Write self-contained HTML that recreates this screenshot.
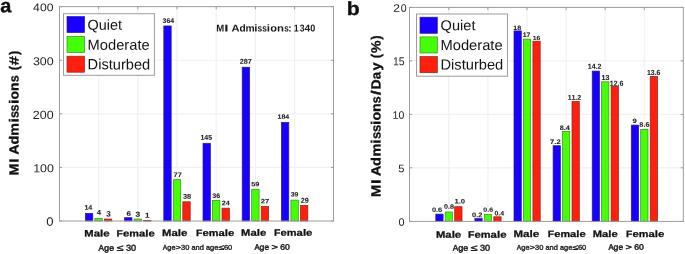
<!DOCTYPE html>
<html><head><meta charset="utf-8"><style>
html,body{margin:0;padding:0;background:#fff;width:685px;height:254px;overflow:hidden;}
svg{display:block;will-change:transform;font-family:"Liberation Sans", sans-serif;}
</style></head><body>
<svg width="685" height="254" viewBox="0 0 685 254">
<rect width="685" height="254" fill="#fff"/>
<line x1="98.6" y1="6.65" x2="98.6" y2="221.0" stroke="#f1f1f1" stroke-width="1.2"/>
<line x1="137.8" y1="6.65" x2="137.8" y2="221.0" stroke="#f1f1f1" stroke-width="1.2"/>
<line x1="177.0" y1="6.65" x2="177.0" y2="221.0" stroke="#f1f1f1" stroke-width="1.2"/>
<line x1="216.2" y1="6.65" x2="216.2" y2="221.0" stroke="#f1f1f1" stroke-width="1.2"/>
<line x1="255.4" y1="6.65" x2="255.4" y2="221.0" stroke="#f1f1f1" stroke-width="1.2"/>
<line x1="294.6" y1="6.65" x2="294.6" y2="221.0" stroke="#f1f1f1" stroke-width="1.2"/>
<line x1="59.5" y1="167.4125" x2="333.5" y2="167.4125" stroke="#f1f1f1" stroke-width="1.2"/>
<line x1="59.5" y1="113.825" x2="333.5" y2="113.825" stroke="#f1f1f1" stroke-width="1.2"/>
<line x1="59.5" y1="60.23750000000001" x2="333.5" y2="60.23750000000001" stroke="#f1f1f1" stroke-width="1.2"/>
<rect x="85.40" y="213.30" width="7.4" height="7.70" fill="#1700ff" stroke="#2a1c8a" stroke-width="0.7"/>
<rect x="94.90" y="218.40" width="7.4" height="2.60" fill="#44ff06" stroke="#3c8a1c" stroke-width="0.7"/>
<rect x="104.40" y="219.00" width="7.4" height="2.00" fill="#fe1f0e" stroke="#8a2418" stroke-width="0.7"/>
<rect x="124.60" y="217.70" width="7.4" height="3.30" fill="#1700ff" stroke="#2a1c8a" stroke-width="0.7"/>
<rect x="134.10" y="219.00" width="7.4" height="2.00" fill="#44ff06" stroke="#3c8a1c" stroke-width="0.7"/>
<rect x="143.60" y="220.30" width="7.4" height="0.70" fill="#fe1f0e" stroke="#8a2418" stroke-width="0.7"/>
<rect x="163.80" y="25.94" width="7.4" height="195.06" fill="#1700ff" stroke="#2a1c8a" stroke-width="0.7"/>
<rect x="173.30" y="179.74" width="7.4" height="41.26" fill="#44ff06" stroke="#3c8a1c" stroke-width="0.7"/>
<rect x="182.80" y="201.80" width="7.4" height="19.20" fill="#fe1f0e" stroke="#8a2418" stroke-width="0.7"/>
<rect x="203.00" y="143.30" width="7.4" height="77.70" fill="#1700ff" stroke="#2a1c8a" stroke-width="0.7"/>
<rect x="212.50" y="200.40" width="7.4" height="20.60" fill="#44ff06" stroke="#3c8a1c" stroke-width="0.7"/>
<rect x="222.00" y="208.14" width="7.4" height="12.86" fill="#fe1f0e" stroke="#8a2418" stroke-width="0.7"/>
<rect x="242.20" y="67.20" width="7.4" height="153.80" fill="#1700ff" stroke="#2a1c8a" stroke-width="0.7"/>
<rect x="251.70" y="189.38" width="7.4" height="31.62" fill="#44ff06" stroke="#3c8a1c" stroke-width="0.7"/>
<rect x="261.20" y="206.53" width="7.4" height="14.47" fill="#fe1f0e" stroke="#8a2418" stroke-width="0.7"/>
<rect x="281.40" y="122.40" width="7.4" height="98.60" fill="#1700ff" stroke="#2a1c8a" stroke-width="0.7"/>
<rect x="290.90" y="200.10" width="7.4" height="20.90" fill="#44ff06" stroke="#3c8a1c" stroke-width="0.7"/>
<rect x="300.40" y="205.46" width="7.4" height="15.54" fill="#fe1f0e" stroke="#8a2418" stroke-width="0.7"/>
<rect x="59.5" y="6.65" width="274.0" height="214.35" fill="none" stroke="#9c9c9c" stroke-width="1"/>
<line x1="59.5" y1="221.0" x2="62.1" y2="221.0" stroke="#9c9c9c" stroke-width="1"/>
<line x1="333.5" y1="221.0" x2="330.9" y2="221.0" stroke="#9c9c9c" stroke-width="1"/>
<line x1="59.5" y1="167.4125" x2="62.1" y2="167.4125" stroke="#9c9c9c" stroke-width="1"/>
<line x1="333.5" y1="167.4125" x2="330.9" y2="167.4125" stroke="#9c9c9c" stroke-width="1"/>
<line x1="59.5" y1="113.825" x2="62.1" y2="113.825" stroke="#9c9c9c" stroke-width="1"/>
<line x1="333.5" y1="113.825" x2="330.9" y2="113.825" stroke="#9c9c9c" stroke-width="1"/>
<line x1="59.5" y1="60.23750000000001" x2="62.1" y2="60.23750000000001" stroke="#9c9c9c" stroke-width="1"/>
<line x1="333.5" y1="60.23750000000001" x2="330.9" y2="60.23750000000001" stroke="#9c9c9c" stroke-width="1"/>
<line x1="59.5" y1="6.650000000000006" x2="62.1" y2="6.650000000000006" stroke="#9c9c9c" stroke-width="1"/>
<line x1="333.5" y1="6.650000000000006" x2="330.9" y2="6.650000000000006" stroke="#9c9c9c" stroke-width="1"/>
<line x1="98.6" y1="6.65" x2="98.6" y2="9.25" stroke="#9c9c9c" stroke-width="1"/>
<line x1="98.6" y1="221.0" x2="98.6" y2="218.4" stroke="#9c9c9c" stroke-width="1"/>
<line x1="137.8" y1="6.65" x2="137.8" y2="9.25" stroke="#9c9c9c" stroke-width="1"/>
<line x1="137.8" y1="221.0" x2="137.8" y2="218.4" stroke="#9c9c9c" stroke-width="1"/>
<line x1="177.0" y1="6.65" x2="177.0" y2="9.25" stroke="#9c9c9c" stroke-width="1"/>
<line x1="177.0" y1="221.0" x2="177.0" y2="218.4" stroke="#9c9c9c" stroke-width="1"/>
<line x1="216.2" y1="6.65" x2="216.2" y2="9.25" stroke="#9c9c9c" stroke-width="1"/>
<line x1="216.2" y1="221.0" x2="216.2" y2="218.4" stroke="#9c9c9c" stroke-width="1"/>
<line x1="255.4" y1="6.65" x2="255.4" y2="9.25" stroke="#9c9c9c" stroke-width="1"/>
<line x1="255.4" y1="221.0" x2="255.4" y2="218.4" stroke="#9c9c9c" stroke-width="1"/>
<line x1="294.6" y1="6.65" x2="294.6" y2="9.25" stroke="#9c9c9c" stroke-width="1"/>
<line x1="294.6" y1="221.0" x2="294.6" y2="218.4" stroke="#9c9c9c" stroke-width="1"/>
<rect x="63.5" y="13.7" width="90.9" height="61.599999999999994" fill="#fff" stroke="#9c9c9c" stroke-width="1"/>
<rect x="67.0" y="16.6" width="17.5" height="16" fill="#1700ff" stroke="#2a1c8a" stroke-width="0.7"/>
<rect x="67.0" y="36.4" width="17.5" height="16" fill="#44ff06" stroke="#3c8a1c" stroke-width="0.7"/>
<rect x="67.0" y="56.2" width="17.5" height="16" fill="#fe1f0e" stroke="#8a2418" stroke-width="0.7"/>
<text x="87.62" y="29.70" font-size="14.35" font-weight="normal" fill="#141414" textLength="34.49" lengthAdjust="spacingAndGlyphs" transform="matrix(1 0.001 0 1 0 -0.1049)">Quiet</text>
<text x="87.59" y="49.80" font-size="14.49" font-weight="normal" fill="#141414" textLength="62.06" lengthAdjust="spacingAndGlyphs" transform="matrix(1 0.001 0 1 0 -0.1186)">Moderate</text>
<text x="87.60" y="69.40" font-size="14.90" font-weight="normal" fill="#141414" textLength="62.54" lengthAdjust="spacingAndGlyphs" transform="matrix(1 0.001 0 1 0 -0.1189)">Disturbed</text>
<text x="84.45" y="209.80" font-size="6.69" font-weight="bold" fill="#1e1e1e" textLength="7.88" lengthAdjust="spacingAndGlyphs" transform="matrix(1 0.001 0 1 0 -0.0884)" stroke="#1e1e1e" stroke-width="0.08">14</text>
<text x="96.68" y="214.80" font-size="6.83" font-weight="bold" fill="#1e1e1e" textLength="4.36" lengthAdjust="spacingAndGlyphs" transform="matrix(1 0.001 0 1 0 -0.0989)" stroke="#1e1e1e" stroke-width="0.08">4</text>
<text x="106.22" y="216.60" font-size="7.88" font-weight="bold" fill="#1e1e1e" textLength="4.48" lengthAdjust="spacingAndGlyphs" transform="matrix(1 0.001 0 1 0 -0.1085)" stroke="#1e1e1e" stroke-width="0.08">3</text>
<text x="126.60" y="215.70" font-size="6.30" font-weight="bold" fill="#1e1e1e" textLength="4.49" lengthAdjust="spacingAndGlyphs" transform="matrix(1 0.001 0 1 0 -0.1288)" stroke="#1e1e1e" stroke-width="0.08">6</text>
<text x="135.61" y="216.80" font-size="7.16" font-weight="bold" fill="#1e1e1e" textLength="4.70" lengthAdjust="spacingAndGlyphs" transform="matrix(1 0.001 0 1 0 -0.1380)" stroke="#1e1e1e" stroke-width="0.08">3</text>
<text x="145.09" y="217.70" font-size="7.27" font-weight="bold" fill="#1e1e1e" textLength="4.54" lengthAdjust="spacingAndGlyphs" transform="matrix(1 0.001 0 1 0 -0.1474)" stroke="#1e1e1e" stroke-width="0.08">1</text>
<text x="162.64" y="23.00" font-size="6.87" font-weight="bold" fill="#1e1e1e" textLength="11.50" lengthAdjust="spacingAndGlyphs" transform="matrix(1 0.001 0 1 0 -0.1684)" stroke="#1e1e1e" stroke-width="0.08">364</text>
<text x="173.59" y="177.00" font-size="6.54" font-weight="bold" fill="#1e1e1e" textLength="8.14" lengthAdjust="spacingAndGlyphs" transform="matrix(1 0.001 0 1 0 -0.1777)" stroke="#1e1e1e" stroke-width="0.08">77</text>
<text x="182.93" y="198.70" font-size="6.87" font-weight="bold" fill="#1e1e1e" textLength="8.30" lengthAdjust="spacingAndGlyphs" transform="matrix(1 0.001 0 1 0 -0.1871)" stroke="#1e1e1e" stroke-width="0.08">38</text>
<text x="200.46" y="139.80" font-size="6.83" font-weight="bold" fill="#1e1e1e" textLength="11.63" lengthAdjust="spacingAndGlyphs" transform="matrix(1 0.001 0 1 0 -0.2063)" stroke="#1e1e1e" stroke-width="0.08">145</text>
<text x="212.33" y="197.90" font-size="6.59" font-weight="bold" fill="#1e1e1e" textLength="8.03" lengthAdjust="spacingAndGlyphs" transform="matrix(1 0.001 0 1 0 -0.2163)" stroke="#1e1e1e" stroke-width="0.08">36</text>
<text x="221.85" y="205.20" font-size="6.59" font-weight="bold" fill="#1e1e1e" textLength="7.99" lengthAdjust="spacingAndGlyphs" transform="matrix(1 0.001 0 1 0 -0.2258)" stroke="#1e1e1e" stroke-width="0.08">24</text>
<text x="239.65" y="63.80" font-size="7.02" font-weight="bold" fill="#1e1e1e" textLength="12.07" lengthAdjust="spacingAndGlyphs" transform="matrix(1 0.001 0 1 0 -0.2457)" stroke="#1e1e1e" stroke-width="0.08">287</text>
<text x="251.17" y="186.20" font-size="6.30" font-weight="bold" fill="#1e1e1e" textLength="8.20" lengthAdjust="spacingAndGlyphs" transform="matrix(1 0.001 0 1 0 -0.2553)" stroke="#1e1e1e" stroke-width="0.08">59</text>
<text x="260.73" y="203.30" font-size="6.30" font-weight="bold" fill="#1e1e1e" textLength="8.61" lengthAdjust="spacingAndGlyphs" transform="matrix(1 0.001 0 1 0 -0.2650)" stroke="#1e1e1e" stroke-width="0.08">27</text>
<text x="277.56" y="118.70" font-size="6.30" font-weight="bold" fill="#1e1e1e" textLength="11.68" lengthAdjust="spacingAndGlyphs" transform="matrix(1 0.001 0 1 0 -0.2834)" stroke="#1e1e1e" stroke-width="0.08">184</text>
<text x="290.74" y="196.40" font-size="6.44" font-weight="bold" fill="#1e1e1e" textLength="7.61" lengthAdjust="spacingAndGlyphs" transform="matrix(1 0.001 0 1 0 -0.2945)" stroke="#1e1e1e" stroke-width="0.08">39</text>
<text x="300.85" y="202.80" font-size="7.02" font-weight="bold" fill="#1e1e1e" textLength="8.02" lengthAdjust="spacingAndGlyphs" transform="matrix(1 0.001 0 1 0 -0.3049)" stroke="#1e1e1e" stroke-width="0.08">29</text>
<text x="33.12" y="11.20" font-size="11.17" font-weight="normal" fill="#1e1e1e" textLength="20.36" lengthAdjust="spacingAndGlyphs" transform="matrix(1 0.001 0 1 0 -0.0433)">400</text>
<text x="32.93" y="65.20" font-size="11.60" font-weight="normal" fill="#1e1e1e" textLength="20.76" lengthAdjust="spacingAndGlyphs" transform="matrix(1 0.001 0 1 0 -0.0433)">300</text>
<text x="32.87" y="118.90" font-size="11.89" font-weight="normal" fill="#1e1e1e" textLength="20.81" lengthAdjust="spacingAndGlyphs" transform="matrix(1 0.001 0 1 0 -0.0433)">200</text>
<text x="33.15" y="172.20" font-size="11.60" font-weight="normal" fill="#1e1e1e" textLength="20.73" lengthAdjust="spacingAndGlyphs" transform="matrix(1 0.001 0 1 0 -0.0435)">100</text>
<text x="46.39" y="225.70" font-size="12.03" font-weight="normal" fill="#1e1e1e" textLength="7.33" lengthAdjust="spacingAndGlyphs" transform="matrix(1 0.001 0 1 0 -0.0501)">0</text>
<text x="216.16" y="31.60" font-size="10.00" font-weight="bold" fill="#1a1a1a" textLength="7.98" lengthAdjust="spacingAndGlyphs" transform="matrix(1 0.001 0 1 0 -0.2202)">M</text>
<text x="224.28" y="31.60" font-size="10.00" font-weight="bold" fill="#1a1a1a" textLength="4.24" lengthAdjust="spacingAndGlyphs" transform="matrix(1 0.001 0 1 0 -0.2264)">I</text>
<text x="231.42" y="31.60" font-size="10.00" font-weight="bold" fill="#1a1a1a" textLength="8.07" lengthAdjust="spacingAndGlyphs" transform="matrix(1 0.001 0 1 0 -0.2355)">A</text>
<text x="239.58" y="31.60" font-size="10.00" font-weight="bold" fill="#1a1a1a" textLength="6.18" lengthAdjust="spacingAndGlyphs" transform="matrix(1 0.001 0 1 0 -0.2427)">d</text>
<text x="245.62" y="31.60" font-size="10.00" font-weight="bold" fill="#1a1a1a" textLength="9.23" lengthAdjust="spacingAndGlyphs" transform="matrix(1 0.001 0 1 0 -0.2502)">m</text>
<text x="254.19" y="31.60" font-size="10.00" font-weight="bold" fill="#1a1a1a" textLength="3.24" lengthAdjust="spacingAndGlyphs" transform="matrix(1 0.001 0 1 0 -0.2558)">i</text>
<text x="257.41" y="31.60" font-size="10.00" font-weight="bold" fill="#1a1a1a" textLength="4.63" lengthAdjust="spacingAndGlyphs" transform="matrix(1 0.001 0 1 0 -0.2597)">s</text>
<text x="262.21" y="31.60" font-size="10.00" font-weight="bold" fill="#1a1a1a" textLength="4.63" lengthAdjust="spacingAndGlyphs" transform="matrix(1 0.001 0 1 0 -0.2645)">s</text>
<text x="266.69" y="31.60" font-size="10.00" font-weight="bold" fill="#1a1a1a" textLength="3.24" lengthAdjust="spacingAndGlyphs" transform="matrix(1 0.001 0 1 0 -0.2683)">i</text>
<text x="270.27" y="31.60" font-size="10.00" font-weight="bold" fill="#1a1a1a" textLength="6.77" lengthAdjust="spacingAndGlyphs" transform="matrix(1 0.001 0 1 0 -0.2737)">o</text>
<text x="277.05" y="31.60" font-size="10.00" font-weight="bold" fill="#1a1a1a" textLength="6.96" lengthAdjust="spacingAndGlyphs" transform="matrix(1 0.001 0 1 0 -0.2805)">n</text>
<text x="284.21" y="31.60" font-size="10.00" font-weight="bold" fill="#1a1a1a" textLength="4.52" lengthAdjust="spacingAndGlyphs" transform="matrix(1 0.001 0 1 0 -0.2865)">s</text>
<text x="288.11" y="31.60" font-size="10.00" font-weight="bold" fill="#1a1a1a" textLength="3.79" lengthAdjust="spacingAndGlyphs" transform="matrix(1 0.001 0 1 0 -0.2900)">:</text>
<text x="293.85" y="31.60" font-size="10.00" font-weight="bold" fill="#1a1a1a" textLength="4.90" lengthAdjust="spacingAndGlyphs" transform="matrix(1 0.001 0 1 0 -0.2963)">1</text>
<text x="299.70" y="31.60" font-size="10.00" font-weight="bold" fill="#1a1a1a" textLength="4.81" lengthAdjust="spacingAndGlyphs" transform="matrix(1 0.001 0 1 0 -0.3021)">3</text>
<text x="304.44" y="31.60" font-size="10.00" font-weight="bold" fill="#1a1a1a" textLength="5.71" lengthAdjust="spacingAndGlyphs" transform="matrix(1 0.001 0 1 0 -0.3073)">4</text>
<text x="310.14" y="31.60" font-size="10.00" font-weight="bold" fill="#1a1a1a" textLength="5.03" lengthAdjust="spacingAndGlyphs" transform="matrix(1 0.001 0 1 0 -0.3127)">0</text>
<text x="84.34" y="236.45" font-size="9.37" font-weight="bold" fill="#111" textLength="9.36" lengthAdjust="spacingAndGlyphs" transform="matrix(1 0.001 0 1 0 -0.0890)" stroke="#111" stroke-width="0.25">M</text>
<text x="93.70" y="236.45" font-size="9.37" font-weight="bold" fill="#111" textLength="6.35" lengthAdjust="spacingAndGlyphs" transform="matrix(1 0.001 0 1 0 -0.0969)" stroke="#111" stroke-width="0.25">a</text>
<text x="100.05" y="236.45" font-size="9.37" font-weight="bold" fill="#111" textLength="3.23" lengthAdjust="spacingAndGlyphs" transform="matrix(1 0.001 0 1 0 -0.1017)" stroke="#111" stroke-width="0.25">l</text>
<text x="103.27" y="236.45" font-size="9.37" font-weight="bold" fill="#111" textLength="6.38" lengthAdjust="spacingAndGlyphs" transform="matrix(1 0.001 0 1 0 -0.1065)" stroke="#111" stroke-width="0.25">e</text>
<text x="116.64" y="236.45" font-size="9.28" font-weight="bold" fill="#111" textLength="6.37" lengthAdjust="spacingAndGlyphs" transform="matrix(1 0.001 0 1 0 -0.1198)" stroke="#111" stroke-width="0.25">F</text>
<text x="123.01" y="236.45" font-size="9.28" font-weight="bold" fill="#111" textLength="6.32" lengthAdjust="spacingAndGlyphs" transform="matrix(1 0.001 0 1 0 -0.1262)" stroke="#111" stroke-width="0.25">e</text>
<text x="129.33" y="236.45" font-size="9.28" font-weight="bold" fill="#111" textLength="9.71" lengthAdjust="spacingAndGlyphs" transform="matrix(1 0.001 0 1 0 -0.1342)" stroke="#111" stroke-width="0.25">m</text>
<text x="139.04" y="236.45" font-size="9.28" font-weight="bold" fill="#111" textLength="6.29" lengthAdjust="spacingAndGlyphs" transform="matrix(1 0.001 0 1 0 -0.1422)" stroke="#111" stroke-width="0.25">a</text>
<text x="145.33" y="236.45" font-size="9.28" font-weight="bold" fill="#111" textLength="3.19" lengthAdjust="spacingAndGlyphs" transform="matrix(1 0.001 0 1 0 -0.1469)" stroke="#111" stroke-width="0.25">l</text>
<text x="148.53" y="236.45" font-size="9.28" font-weight="bold" fill="#111" textLength="6.32" lengthAdjust="spacingAndGlyphs" transform="matrix(1 0.001 0 1 0 -0.1517)" stroke="#111" stroke-width="0.25">e</text>
<text x="162.04" y="235.90" font-size="9.37" font-weight="bold" fill="#111" textLength="9.36" lengthAdjust="spacingAndGlyphs" transform="matrix(1 0.001 0 1 0 -0.1667)" stroke="#111" stroke-width="0.25">M</text>
<text x="171.40" y="235.90" font-size="9.37" font-weight="bold" fill="#111" textLength="6.35" lengthAdjust="spacingAndGlyphs" transform="matrix(1 0.001 0 1 0 -0.1746)" stroke="#111" stroke-width="0.25">a</text>
<text x="177.75" y="235.90" font-size="9.37" font-weight="bold" fill="#111" textLength="3.23" lengthAdjust="spacingAndGlyphs" transform="matrix(1 0.001 0 1 0 -0.1794)" stroke="#111" stroke-width="0.25">l</text>
<text x="180.97" y="235.90" font-size="9.37" font-weight="bold" fill="#111" textLength="6.38" lengthAdjust="spacingAndGlyphs" transform="matrix(1 0.001 0 1 0 -0.1842)" stroke="#111" stroke-width="0.25">e</text>
<text x="196.14" y="235.90" font-size="9.28" font-weight="bold" fill="#111" textLength="6.37" lengthAdjust="spacingAndGlyphs" transform="matrix(1 0.001 0 1 0 -0.1993)" stroke="#111" stroke-width="0.25">F</text>
<text x="202.51" y="235.90" font-size="9.28" font-weight="bold" fill="#111" textLength="6.32" lengthAdjust="spacingAndGlyphs" transform="matrix(1 0.001 0 1 0 -0.2057)" stroke="#111" stroke-width="0.25">e</text>
<text x="208.83" y="235.90" font-size="9.28" font-weight="bold" fill="#111" textLength="9.71" lengthAdjust="spacingAndGlyphs" transform="matrix(1 0.001 0 1 0 -0.2137)" stroke="#111" stroke-width="0.25">m</text>
<text x="218.54" y="235.90" font-size="9.28" font-weight="bold" fill="#111" textLength="6.29" lengthAdjust="spacingAndGlyphs" transform="matrix(1 0.001 0 1 0 -0.2217)" stroke="#111" stroke-width="0.25">a</text>
<text x="224.83" y="235.90" font-size="9.28" font-weight="bold" fill="#111" textLength="3.19" lengthAdjust="spacingAndGlyphs" transform="matrix(1 0.001 0 1 0 -0.2264)" stroke="#111" stroke-width="0.25">l</text>
<text x="228.03" y="235.90" font-size="9.28" font-weight="bold" fill="#111" textLength="6.32" lengthAdjust="spacingAndGlyphs" transform="matrix(1 0.001 0 1 0 -0.2312)" stroke="#111" stroke-width="0.25">e</text>
<text x="241.14" y="235.70" font-size="9.29" font-weight="bold" fill="#111" textLength="9.28" lengthAdjust="spacingAndGlyphs" transform="matrix(1 0.001 0 1 0 -0.2458)" stroke="#111" stroke-width="0.25">M</text>
<text x="250.43" y="235.70" font-size="9.29" font-weight="bold" fill="#111" textLength="6.30" lengthAdjust="spacingAndGlyphs" transform="matrix(1 0.001 0 1 0 -0.2536)" stroke="#111" stroke-width="0.25">a</text>
<text x="256.72" y="235.70" font-size="9.29" font-weight="bold" fill="#111" textLength="3.20" lengthAdjust="spacingAndGlyphs" transform="matrix(1 0.001 0 1 0 -0.2583)" stroke="#111" stroke-width="0.25">l</text>
<text x="259.92" y="235.70" font-size="9.29" font-weight="bold" fill="#111" textLength="6.33" lengthAdjust="spacingAndGlyphs" transform="matrix(1 0.001 0 1 0 -0.2631)" stroke="#111" stroke-width="0.25">e</text>
<text x="274.14" y="235.70" font-size="9.31" font-weight="bold" fill="#111" textLength="6.38" lengthAdjust="spacingAndGlyphs" transform="matrix(1 0.001 0 1 0 -0.2773)" stroke="#111" stroke-width="0.25">F</text>
<text x="280.53" y="235.70" font-size="9.31" font-weight="bold" fill="#111" textLength="6.34" lengthAdjust="spacingAndGlyphs" transform="matrix(1 0.001 0 1 0 -0.2837)" stroke="#111" stroke-width="0.25">e</text>
<text x="286.86" y="235.70" font-size="9.31" font-weight="bold" fill="#111" textLength="9.74" lengthAdjust="spacingAndGlyphs" transform="matrix(1 0.001 0 1 0 -0.2917)" stroke="#111" stroke-width="0.25">m</text>
<text x="296.60" y="235.70" font-size="9.31" font-weight="bold" fill="#111" textLength="6.31" lengthAdjust="spacingAndGlyphs" transform="matrix(1 0.001 0 1 0 -0.2998)" stroke="#111" stroke-width="0.25">a</text>
<text x="302.91" y="235.70" font-size="9.31" font-weight="bold" fill="#111" textLength="3.20" lengthAdjust="spacingAndGlyphs" transform="matrix(1 0.001 0 1 0 -0.3045)" stroke="#111" stroke-width="0.25">l</text>
<text x="306.11" y="235.70" font-size="9.31" font-weight="bold" fill="#111" textLength="6.34" lengthAdjust="spacingAndGlyphs" transform="matrix(1 0.001 0 1 0 -0.3093)" stroke="#111" stroke-width="0.25">e</text>
<text x="98.59" y="250.70" font-size="8.50" font-weight="normal" fill="#222" textLength="5.49" lengthAdjust="spacingAndGlyphs" transform="matrix(1 0.001 0 1 0 -0.1013)" stroke="#222" stroke-width="0.45">A</text>
<text x="104.08" y="250.70" font-size="8.50" font-weight="normal" fill="#222" textLength="5.09" lengthAdjust="spacingAndGlyphs" transform="matrix(1 0.001 0 1 0 -0.1066)" stroke="#222" stroke-width="0.45">g</text>
<text x="109.17" y="250.70" font-size="8.50" font-weight="normal" fill="#222" textLength="4.94" lengthAdjust="spacingAndGlyphs" transform="matrix(1 0.001 0 1 0 -0.1116)" stroke="#222" stroke-width="0.45">e</text>
<text x="116.65" y="250.70" font-size="8.50" font-weight="normal" fill="#222" textLength="6.72" lengthAdjust="spacingAndGlyphs" transform="matrix(1 0.001 0 1 0 -0.1200)" stroke="#222" stroke-width="0.45">≤</text>
<text x="125.92" y="250.70" font-size="8.50" font-weight="normal" fill="#222" textLength="5.10" lengthAdjust="spacingAndGlyphs" transform="matrix(1 0.001 0 1 0 -0.1285)" stroke="#222" stroke-width="0.45">3</text>
<text x="131.03" y="250.70" font-size="8.50" font-weight="normal" fill="#222" textLength="5.10" lengthAdjust="spacingAndGlyphs" transform="matrix(1 0.001 0 1 0 -0.1336)" stroke="#222" stroke-width="0.45">0</text>
<text x="162.75" y="249.70" font-size="7.00" font-weight="normal" fill="#222" textLength="4.52" lengthAdjust="spacingAndGlyphs" transform="matrix(1 0.001 0 1 0 -0.1650)" stroke="#222" stroke-width="0.35">A</text>
<text x="167.27" y="249.70" font-size="7.00" font-weight="normal" fill="#222" textLength="4.19" lengthAdjust="spacingAndGlyphs" transform="matrix(1 0.001 0 1 0 -0.1694)" stroke="#222" stroke-width="0.35">g</text>
<text x="171.46" y="249.70" font-size="7.00" font-weight="normal" fill="#222" textLength="4.06" lengthAdjust="spacingAndGlyphs" transform="matrix(1 0.001 0 1 0 -0.1735)" stroke="#222" stroke-width="0.35">e</text>
<text x="175.52" y="249.70" font-size="7.00" font-weight="normal" fill="#222" textLength="5.53" lengthAdjust="spacingAndGlyphs" transform="matrix(1 0.001 0 1 0 -0.1783)" stroke="#222" stroke-width="0.35">&gt;</text>
<text x="181.06" y="249.70" font-size="7.00" font-weight="normal" fill="#222" textLength="4.20" lengthAdjust="spacingAndGlyphs" transform="matrix(1 0.001 0 1 0 -0.1832)" stroke="#222" stroke-width="0.35">3</text>
<text x="185.26" y="249.70" font-size="7.00" font-weight="normal" fill="#222" textLength="4.20" lengthAdjust="spacingAndGlyphs" transform="matrix(1 0.001 0 1 0 -0.1874)" stroke="#222" stroke-width="0.35">0</text>
<text x="191.57" y="249.70" font-size="7.00" font-weight="normal" fill="#222" textLength="4.05" lengthAdjust="spacingAndGlyphs" transform="matrix(1 0.001 0 1 0 -0.1936)" stroke="#222" stroke-width="0.35">a</text>
<text x="195.61" y="249.70" font-size="7.00" font-weight="normal" fill="#222" textLength="4.19" lengthAdjust="spacingAndGlyphs" transform="matrix(1 0.001 0 1 0 -0.1977)" stroke="#222" stroke-width="0.35">n</text>
<text x="199.80" y="249.70" font-size="7.00" font-weight="normal" fill="#222" textLength="4.19" lengthAdjust="spacingAndGlyphs" transform="matrix(1 0.001 0 1 0 -0.2019)" stroke="#222" stroke-width="0.35">d</text>
<text x="206.09" y="249.70" font-size="7.00" font-weight="normal" fill="#222" textLength="4.05" lengthAdjust="spacingAndGlyphs" transform="matrix(1 0.001 0 1 0 -0.2081)" stroke="#222" stroke-width="0.35">a</text>
<text x="210.14" y="249.70" font-size="7.00" font-weight="normal" fill="#222" textLength="4.19" lengthAdjust="spacingAndGlyphs" transform="matrix(1 0.001 0 1 0 -0.2122)" stroke="#222" stroke-width="0.35">g</text>
<text x="214.33" y="249.70" font-size="7.00" font-weight="normal" fill="#222" textLength="4.06" lengthAdjust="spacingAndGlyphs" transform="matrix(1 0.001 0 1 0 -0.2164)" stroke="#222" stroke-width="0.35">e</text>
<text x="218.40" y="249.70" font-size="7.00" font-weight="normal" fill="#222" textLength="5.53" lengthAdjust="spacingAndGlyphs" transform="matrix(1 0.001 0 1 0 -0.2212)" stroke="#222" stroke-width="0.35">≤</text>
<text x="223.93" y="249.70" font-size="7.00" font-weight="normal" fill="#222" textLength="4.20" lengthAdjust="spacingAndGlyphs" transform="matrix(1 0.001 0 1 0 -0.2260)" stroke="#222" stroke-width="0.35">6</text>
<text x="228.14" y="249.70" font-size="7.00" font-weight="normal" fill="#222" textLength="4.20" lengthAdjust="spacingAndGlyphs" transform="matrix(1 0.001 0 1 0 -0.2302)" stroke="#222" stroke-width="0.35">0</text>
<text x="254.44" y="249.80" font-size="8.03" font-weight="normal" fill="#222" textLength="5.18" lengthAdjust="spacingAndGlyphs" transform="matrix(1 0.001 0 1 0 -0.2570)" stroke="#222" stroke-width="0.45">A</text>
<text x="259.62" y="249.80" font-size="8.03" font-weight="normal" fill="#222" textLength="4.81" lengthAdjust="spacingAndGlyphs" transform="matrix(1 0.001 0 1 0 -0.2620)" stroke="#222" stroke-width="0.45">g</text>
<text x="264.43" y="249.80" font-size="8.03" font-weight="normal" fill="#222" textLength="4.66" lengthAdjust="spacingAndGlyphs" transform="matrix(1 0.001 0 1 0 -0.2668)" stroke="#222" stroke-width="0.45">e</text>
<text x="271.50" y="249.80" font-size="8.03" font-weight="normal" fill="#222" textLength="6.35" lengthAdjust="spacingAndGlyphs" transform="matrix(1 0.001 0 1 0 -0.2747)" stroke="#222" stroke-width="0.45">&gt;</text>
<text x="280.26" y="249.80" font-size="8.03" font-weight="normal" fill="#222" textLength="4.82" lengthAdjust="spacingAndGlyphs" transform="matrix(1 0.001 0 1 0 -0.2827)" stroke="#222" stroke-width="0.45">6</text>
<text x="285.08" y="249.80" font-size="8.03" font-weight="normal" fill="#222" textLength="4.82" lengthAdjust="spacingAndGlyphs" transform="matrix(1 0.001 0 1 0 -0.2875)" stroke="#222" stroke-width="0.45">0</text>
<g transform="translate(18.40,176.00) rotate(-90)">
<text x="0.53" y="0.00" font-size="13.20" font-weight="bold" fill="#111" textLength="11.86" lengthAdjust="spacingAndGlyphs" transform="matrix(1 0.001 0 1 0 -0.0065)" stroke="#111" stroke-width="0.3">M</text>
<text x="13.35" y="0.00" font-size="13.20" font-weight="bold" fill="#111" textLength="4.45" lengthAdjust="spacingAndGlyphs" transform="matrix(1 0.001 0 1 0 -0.0156)" stroke="#111" stroke-width="0.3">I</text>
<text x="21.50" y="0.00" font-size="13.20" font-weight="bold" fill="#111" textLength="10.10" lengthAdjust="spacingAndGlyphs" transform="matrix(1 0.001 0 1 0 -0.0265)" stroke="#111" stroke-width="0.3">A</text>
<text x="31.52" y="0.00" font-size="13.20" font-weight="bold" fill="#111" textLength="8.74" lengthAdjust="spacingAndGlyphs" transform="matrix(1 0.001 0 1 0 -0.0359)" stroke="#111" stroke-width="0.3">d</text>
<text x="40.28" y="0.00" font-size="13.20" font-weight="bold" fill="#111" textLength="12.62" lengthAdjust="spacingAndGlyphs" transform="matrix(1 0.001 0 1 0 -0.0466)" stroke="#111" stroke-width="0.3">m</text>
<text x="53.61" y="0.00" font-size="13.20" font-weight="bold" fill="#111" textLength="4.35" lengthAdjust="spacingAndGlyphs" transform="matrix(1 0.001 0 1 0 -0.0558)" stroke="#111" stroke-width="0.3">i</text>
<text x="57.91" y="0.00" font-size="13.20" font-weight="bold" fill="#111" textLength="7.06" lengthAdjust="spacingAndGlyphs" transform="matrix(1 0.001 0 1 0 -0.0614)" stroke="#111" stroke-width="0.3">s</text>
<text x="64.59" y="0.00" font-size="13.20" font-weight="bold" fill="#111" textLength="7.06" lengthAdjust="spacingAndGlyphs" transform="matrix(1 0.001 0 1 0 -0.0681)" stroke="#111" stroke-width="0.3">s</text>
<text x="71.90" y="0.00" font-size="13.20" font-weight="bold" fill="#111" textLength="4.35" lengthAdjust="spacingAndGlyphs" transform="matrix(1 0.001 0 1 0 -0.0741)" stroke="#111" stroke-width="0.3">i</text>
<text x="76.52" y="0.00" font-size="13.20" font-weight="bold" fill="#111" textLength="8.46" lengthAdjust="spacingAndGlyphs" transform="matrix(1 0.001 0 1 0 -0.0808)" stroke="#111" stroke-width="0.3">o</text>
<text x="84.92" y="0.00" font-size="13.20" font-weight="bold" fill="#111" textLength="8.54" lengthAdjust="spacingAndGlyphs" transform="matrix(1 0.001 0 1 0 -0.0892)" stroke="#111" stroke-width="0.3">n</text>
<text x="93.73" y="0.00" font-size="13.20" font-weight="bold" fill="#111" textLength="7.06" lengthAdjust="spacingAndGlyphs" transform="matrix(1 0.001 0 1 0 -0.0973)" stroke="#111" stroke-width="0.3">s</text>
<text x="105.63" y="0.00" font-size="13.20" font-weight="bold" fill="#111" textLength="4.22" lengthAdjust="spacingAndGlyphs" transform="matrix(1 0.001 0 1 0 -0.1077)" stroke="#111" stroke-width="0.3">(</text>
<text x="110.71" y="0.00" font-size="13.20" font-weight="bold" fill="#111" textLength="9.17" lengthAdjust="spacingAndGlyphs" transform="matrix(1 0.001 0 1 0 -0.1153)" stroke="#111" stroke-width="0.3">#</text>
<text x="120.98" y="0.00" font-size="13.20" font-weight="bold" fill="#111" textLength="4.22" lengthAdjust="spacingAndGlyphs" transform="matrix(1 0.001 0 1 0 -0.1231)" stroke="#111" stroke-width="0.3">)</text>
</g>
<text x="0.32" y="12.30" font-size="19.33" font-weight="bold" fill="#111" textLength="11.06" lengthAdjust="spacingAndGlyphs" transform="matrix(1 0.001 0 1 0 -0.0058)" stroke="#111" stroke-width="0.35">a</text>
<line x1="448.8" y1="7.4" x2="448.8" y2="221.4" stroke="#f1f1f1" stroke-width="1.2"/>
<line x1="487.90000000000003" y1="7.4" x2="487.90000000000003" y2="221.4" stroke="#f1f1f1" stroke-width="1.2"/>
<line x1="527.0" y1="7.4" x2="527.0" y2="221.4" stroke="#f1f1f1" stroke-width="1.2"/>
<line x1="566.1" y1="7.4" x2="566.1" y2="221.4" stroke="#f1f1f1" stroke-width="1.2"/>
<line x1="605.2" y1="7.4" x2="605.2" y2="221.4" stroke="#f1f1f1" stroke-width="1.2"/>
<line x1="644.3" y1="7.4" x2="644.3" y2="221.4" stroke="#f1f1f1" stroke-width="1.2"/>
<line x1="409.5" y1="167.8" x2="683.3" y2="167.8" stroke="#f1f1f1" stroke-width="1.2"/>
<line x1="409.5" y1="114.4" x2="683.3" y2="114.4" stroke="#f1f1f1" stroke-width="1.2"/>
<line x1="409.5" y1="60.8" x2="683.3" y2="60.8" stroke="#f1f1f1" stroke-width="1.2"/>
<rect x="435.80" y="214.10" width="7.3" height="7.30" fill="#1700ff" stroke="#2a1c8a" stroke-width="0.7"/>
<rect x="445.20" y="212.00" width="7.3" height="9.40" fill="#44ff06" stroke="#3c8a1c" stroke-width="0.7"/>
<rect x="454.70" y="206.70" width="7.3" height="14.70" fill="#fe1f0e" stroke="#8a2418" stroke-width="0.7"/>
<rect x="474.90" y="218.60" width="7.3" height="2.80" fill="#1700ff" stroke="#2a1c8a" stroke-width="0.7"/>
<rect x="484.30" y="214.40" width="7.3" height="7.00" fill="#44ff06" stroke="#3c8a1c" stroke-width="0.7"/>
<rect x="493.80" y="216.80" width="7.3" height="4.60" fill="#fe1f0e" stroke="#8a2418" stroke-width="0.7"/>
<rect x="514.00" y="30.90" width="7.3" height="190.50" fill="#1700ff" stroke="#2a1c8a" stroke-width="0.7"/>
<rect x="523.40" y="39.10" width="7.3" height="182.30" fill="#44ff06" stroke="#3c8a1c" stroke-width="0.7"/>
<rect x="532.90" y="41.20" width="7.3" height="180.20" fill="#fe1f0e" stroke="#8a2418" stroke-width="0.7"/>
<rect x="553.10" y="145.70" width="7.3" height="75.70" fill="#1700ff" stroke="#2a1c8a" stroke-width="0.7"/>
<rect x="562.50" y="131.40" width="7.3" height="90.00" fill="#44ff06" stroke="#3c8a1c" stroke-width="0.7"/>
<rect x="572.00" y="101.50" width="7.3" height="119.90" fill="#fe1f0e" stroke="#8a2418" stroke-width="0.7"/>
<rect x="592.20" y="71.10" width="7.3" height="150.30" fill="#1700ff" stroke="#2a1c8a" stroke-width="0.7"/>
<rect x="601.60" y="81.80" width="7.3" height="139.60" fill="#44ff06" stroke="#3c8a1c" stroke-width="0.7"/>
<rect x="611.10" y="86.40" width="7.3" height="135.00" fill="#fe1f0e" stroke="#8a2418" stroke-width="0.7"/>
<rect x="631.30" y="125.10" width="7.3" height="96.30" fill="#1700ff" stroke="#2a1c8a" stroke-width="0.7"/>
<rect x="640.70" y="129.40" width="7.3" height="92.00" fill="#44ff06" stroke="#3c8a1c" stroke-width="0.7"/>
<rect x="650.20" y="76.40" width="7.3" height="145.00" fill="#fe1f0e" stroke="#8a2418" stroke-width="0.7"/>
<rect x="409.5" y="7.4" width="273.79999999999995" height="214.0" fill="none" stroke="#9c9c9c" stroke-width="1"/>
<line x1="409.5" y1="221.4" x2="412.1" y2="221.4" stroke="#9c9c9c" stroke-width="1"/>
<line x1="683.3" y1="221.4" x2="680.6999999999999" y2="221.4" stroke="#9c9c9c" stroke-width="1"/>
<line x1="409.5" y1="167.8" x2="412.1" y2="167.8" stroke="#9c9c9c" stroke-width="1"/>
<line x1="683.3" y1="167.8" x2="680.6999999999999" y2="167.8" stroke="#9c9c9c" stroke-width="1"/>
<line x1="409.5" y1="114.4" x2="412.1" y2="114.4" stroke="#9c9c9c" stroke-width="1"/>
<line x1="683.3" y1="114.4" x2="680.6999999999999" y2="114.4" stroke="#9c9c9c" stroke-width="1"/>
<line x1="409.5" y1="60.8" x2="412.1" y2="60.8" stroke="#9c9c9c" stroke-width="1"/>
<line x1="683.3" y1="60.8" x2="680.6999999999999" y2="60.8" stroke="#9c9c9c" stroke-width="1"/>
<line x1="409.5" y1="7.4" x2="412.1" y2="7.4" stroke="#9c9c9c" stroke-width="1"/>
<line x1="683.3" y1="7.4" x2="680.6999999999999" y2="7.4" stroke="#9c9c9c" stroke-width="1"/>
<line x1="448.8" y1="7.4" x2="448.8" y2="10.0" stroke="#9c9c9c" stroke-width="1"/>
<line x1="448.8" y1="221.4" x2="448.8" y2="218.8" stroke="#9c9c9c" stroke-width="1"/>
<line x1="487.90000000000003" y1="7.4" x2="487.90000000000003" y2="10.0" stroke="#9c9c9c" stroke-width="1"/>
<line x1="487.90000000000003" y1="221.4" x2="487.90000000000003" y2="218.8" stroke="#9c9c9c" stroke-width="1"/>
<line x1="527.0" y1="7.4" x2="527.0" y2="10.0" stroke="#9c9c9c" stroke-width="1"/>
<line x1="527.0" y1="221.4" x2="527.0" y2="218.8" stroke="#9c9c9c" stroke-width="1"/>
<line x1="566.1" y1="7.4" x2="566.1" y2="10.0" stroke="#9c9c9c" stroke-width="1"/>
<line x1="566.1" y1="221.4" x2="566.1" y2="218.8" stroke="#9c9c9c" stroke-width="1"/>
<line x1="605.2" y1="7.4" x2="605.2" y2="10.0" stroke="#9c9c9c" stroke-width="1"/>
<line x1="605.2" y1="221.4" x2="605.2" y2="218.8" stroke="#9c9c9c" stroke-width="1"/>
<line x1="644.3" y1="7.4" x2="644.3" y2="10.0" stroke="#9c9c9c" stroke-width="1"/>
<line x1="644.3" y1="221.4" x2="644.3" y2="218.8" stroke="#9c9c9c" stroke-width="1"/>
<rect x="416.5" y="14.0" width="91.0" height="62.2" fill="#fff" stroke="#9c9c9c" stroke-width="1"/>
<rect x="420.0" y="17.2" width="17.30000000000001" height="16.1" fill="#1700ff" stroke="#2a1c8a" stroke-width="0.7"/>
<rect x="420.0" y="36.9" width="17.30000000000001" height="16.1" fill="#44ff06" stroke="#3c8a1c" stroke-width="0.7"/>
<rect x="420.0" y="56.6" width="17.30000000000001" height="16.1" fill="#fe1f0e" stroke="#8a2418" stroke-width="0.7"/>
<text x="440.61" y="30.20" font-size="14.35" font-weight="normal" fill="#141414" textLength="34.90" lengthAdjust="spacingAndGlyphs" transform="matrix(1 0.001 0 1 0 -0.4581)">Quiet</text>
<text x="440.49" y="50.10" font-size="14.49" font-weight="normal" fill="#141414" textLength="62.16" lengthAdjust="spacingAndGlyphs" transform="matrix(1 0.001 0 1 0 -0.4716)">Moderate</text>
<text x="440.50" y="69.60" font-size="14.63" font-weight="normal" fill="#141414" textLength="62.75" lengthAdjust="spacingAndGlyphs" transform="matrix(1 0.001 0 1 0 -0.4719)">Disturbed</text>
<text x="431.91" y="212.00" font-size="6.44" font-weight="bold" fill="#1e1e1e" textLength="10.36" lengthAdjust="spacingAndGlyphs" transform="matrix(1 0.001 0 1 0 -0.4371)" stroke="#1e1e1e" stroke-width="0.08">0.6</text>
<text x="444.12" y="208.80" font-size="6.30" font-weight="bold" fill="#1e1e1e" textLength="10.01" lengthAdjust="spacingAndGlyphs" transform="matrix(1 0.001 0 1 0 -0.4491)" stroke="#1e1e1e" stroke-width="0.08">0.8</text>
<text x="454.52" y="203.50" font-size="6.44" font-weight="bold" fill="#1e1e1e" textLength="10.59" lengthAdjust="spacingAndGlyphs" transform="matrix(1 0.001 0 1 0 -0.4598)" stroke="#1e1e1e" stroke-width="0.08">1.0</text>
<text x="472.11" y="217.30" font-size="6.87" font-weight="bold" fill="#1e1e1e" textLength="10.18" lengthAdjust="spacingAndGlyphs" transform="matrix(1 0.001 0 1 0 -0.4772)" stroke="#1e1e1e" stroke-width="0.08">0.2</text>
<text x="483.32" y="211.80" font-size="6.16" font-weight="bold" fill="#1e1e1e" textLength="9.73" lengthAdjust="spacingAndGlyphs" transform="matrix(1 0.001 0 1 0 -0.4882)" stroke="#1e1e1e" stroke-width="0.08">0.6</text>
<text x="494.53" y="215.50" font-size="6.59" font-weight="bold" fill="#1e1e1e" textLength="9.61" lengthAdjust="spacingAndGlyphs" transform="matrix(1 0.001 0 1 0 -0.4993)" stroke="#1e1e1e" stroke-width="0.08">0.4</text>
<text x="513.25" y="29.90" font-size="6.30" font-weight="bold" fill="#1e1e1e" textLength="7.86" lengthAdjust="spacingAndGlyphs" transform="matrix(1 0.001 0 1 0 -0.5172)" stroke="#1e1e1e" stroke-width="0.08">18</text>
<text x="522.77" y="37.10" font-size="6.40" font-weight="bold" fill="#1e1e1e" textLength="7.63" lengthAdjust="spacingAndGlyphs" transform="matrix(1 0.001 0 1 0 -0.5266)" stroke="#1e1e1e" stroke-width="0.08">17</text>
<text x="532.67" y="40.00" font-size="5.87" font-weight="bold" fill="#1e1e1e" textLength="7.58" lengthAdjust="spacingAndGlyphs" transform="matrix(1 0.001 0 1 0 -0.5365)" stroke="#1e1e1e" stroke-width="0.08">16</text>
<text x="550.07" y="143.90" font-size="6.73" font-weight="bold" fill="#1e1e1e" textLength="10.64" lengthAdjust="spacingAndGlyphs" transform="matrix(1 0.001 0 1 0 -0.5554)" stroke="#1e1e1e" stroke-width="0.08">7.2</text>
<text x="559.67" y="129.90" font-size="6.44" font-weight="bold" fill="#1e1e1e" textLength="10.17" lengthAdjust="spacingAndGlyphs" transform="matrix(1 0.001 0 1 0 -0.5648)" stroke="#1e1e1e" stroke-width="0.08">8.4</text>
<text x="567.87" y="99.80" font-size="6.87" font-weight="bold" fill="#1e1e1e" textLength="13.30" lengthAdjust="spacingAndGlyphs" transform="matrix(1 0.001 0 1 0 -0.5745)" stroke="#1e1e1e" stroke-width="0.08">11.2</text>
<text x="587.76" y="68.80" font-size="7.16" font-weight="bold" fill="#1e1e1e" textLength="13.73" lengthAdjust="spacingAndGlyphs" transform="matrix(1 0.001 0 1 0 -0.5946)" stroke="#1e1e1e" stroke-width="0.08">14.2</text>
<text x="601.55" y="79.90" font-size="7.16" font-weight="bold" fill="#1e1e1e" textLength="7.90" lengthAdjust="spacingAndGlyphs" transform="matrix(1 0.001 0 1 0 -0.6055)" stroke="#1e1e1e" stroke-width="0.08">13</text>
<text x="609.76" y="85.80" font-size="7.16" font-weight="bold" fill="#1e1e1e" textLength="13.59" lengthAdjust="spacingAndGlyphs" transform="matrix(1 0.001 0 1 0 -0.6166)" stroke="#1e1e1e" stroke-width="0.08">12.6</text>
<text x="632.44" y="122.90" font-size="6.44" font-weight="bold" fill="#1e1e1e" textLength="4.25" lengthAdjust="spacingAndGlyphs" transform="matrix(1 0.001 0 1 0 -0.6346)" stroke="#1e1e1e" stroke-width="0.08">9</text>
<text x="639.37" y="126.70" font-size="6.59" font-weight="bold" fill="#1e1e1e" textLength="10.20" lengthAdjust="spacingAndGlyphs" transform="matrix(1 0.001 0 1 0 -0.6445)" stroke="#1e1e1e" stroke-width="0.08">8.6</text>
<text x="646.96" y="74.90" font-size="7.30" font-weight="bold" fill="#1e1e1e" textLength="13.49" lengthAdjust="spacingAndGlyphs" transform="matrix(1 0.001 0 1 0 -0.6537)" stroke="#1e1e1e" stroke-width="0.08">13.6</text>
<text x="393.29" y="11.80" font-size="10.74" font-weight="normal" fill="#222" textLength="6.71" lengthAdjust="spacingAndGlyphs" transform="matrix(1 0.001 0 1 0 -0.3967)">2</text>
<text x="400.78" y="11.80" font-size="10.74" font-weight="normal" fill="#222" textLength="5.93" lengthAdjust="spacingAndGlyphs" transform="matrix(1 0.001 0 1 0 -0.4037)">0</text>
<text x="392.90" y="65.20" font-size="11.48" font-weight="normal" fill="#1e1e1e" textLength="11.64" lengthAdjust="spacingAndGlyphs" transform="matrix(1 0.001 0 1 0 -0.3987)">15</text>
<text x="392.49" y="118.80" font-size="10.74" font-weight="normal" fill="#1e1e1e" textLength="11.83" lengthAdjust="spacingAndGlyphs" transform="matrix(1 0.001 0 1 0 -0.3984)">10</text>
<text x="398.35" y="172.20" font-size="10.90" font-weight="normal" fill="#1e1e1e" textLength="6.22" lengthAdjust="spacingAndGlyphs" transform="matrix(1 0.001 0 1 0 -0.4015)">5</text>
<text x="398.48" y="225.70" font-size="10.88" font-weight="normal" fill="#1e1e1e" textLength="6.05" lengthAdjust="spacingAndGlyphs" transform="matrix(1 0.001 0 1 0 -0.4015)">0</text>
<text x="435.94" y="237.80" font-size="9.37" font-weight="bold" fill="#111" textLength="9.36" lengthAdjust="spacingAndGlyphs" transform="matrix(1 0.001 0 1 0 -0.4406)" stroke="#111" stroke-width="0.25">M</text>
<text x="445.30" y="237.80" font-size="9.37" font-weight="bold" fill="#111" textLength="6.35" lengthAdjust="spacingAndGlyphs" transform="matrix(1 0.001 0 1 0 -0.4485)" stroke="#111" stroke-width="0.25">a</text>
<text x="451.65" y="237.80" font-size="9.37" font-weight="bold" fill="#111" textLength="3.23" lengthAdjust="spacingAndGlyphs" transform="matrix(1 0.001 0 1 0 -0.4533)" stroke="#111" stroke-width="0.25">l</text>
<text x="454.87" y="237.80" font-size="9.37" font-weight="bold" fill="#111" textLength="6.38" lengthAdjust="spacingAndGlyphs" transform="matrix(1 0.001 0 1 0 -0.4581)" stroke="#111" stroke-width="0.25">e</text>
<text x="468.04" y="237.80" font-size="9.36" font-weight="bold" fill="#111" textLength="6.42" lengthAdjust="spacingAndGlyphs" transform="matrix(1 0.001 0 1 0 -0.4712)" stroke="#111" stroke-width="0.25">F</text>
<text x="474.46" y="237.80" font-size="9.36" font-weight="bold" fill="#111" textLength="6.37" lengthAdjust="spacingAndGlyphs" transform="matrix(1 0.001 0 1 0 -0.4776)" stroke="#111" stroke-width="0.25">e</text>
<text x="480.83" y="237.80" font-size="9.36" font-weight="bold" fill="#111" textLength="9.79" lengthAdjust="spacingAndGlyphs" transform="matrix(1 0.001 0 1 0 -0.4857)" stroke="#111" stroke-width="0.25">m</text>
<text x="490.62" y="237.80" font-size="9.36" font-weight="bold" fill="#111" textLength="6.34" lengthAdjust="spacingAndGlyphs" transform="matrix(1 0.001 0 1 0 -0.4938)" stroke="#111" stroke-width="0.25">a</text>
<text x="496.96" y="237.80" font-size="9.36" font-weight="bold" fill="#111" textLength="3.22" lengthAdjust="spacingAndGlyphs" transform="matrix(1 0.001 0 1 0 -0.4986)" stroke="#111" stroke-width="0.25">l</text>
<text x="500.18" y="237.80" font-size="9.36" font-weight="bold" fill="#111" textLength="6.37" lengthAdjust="spacingAndGlyphs" transform="matrix(1 0.001 0 1 0 -0.5034)" stroke="#111" stroke-width="0.25">e</text>
<text x="513.42" y="237.00" font-size="9.53" font-weight="bold" fill="#111" textLength="9.52" lengthAdjust="spacingAndGlyphs" transform="matrix(1 0.001 0 1 0 -0.5182)" stroke="#111" stroke-width="0.25">M</text>
<text x="522.94" y="237.00" font-size="9.53" font-weight="bold" fill="#111" textLength="6.45" lengthAdjust="spacingAndGlyphs" transform="matrix(1 0.001 0 1 0 -0.5262)" stroke="#111" stroke-width="0.25">a</text>
<text x="529.40" y="237.00" font-size="9.53" font-weight="bold" fill="#111" textLength="3.28" lengthAdjust="spacingAndGlyphs" transform="matrix(1 0.001 0 1 0 -0.5310)" stroke="#111" stroke-width="0.25">l</text>
<text x="532.67" y="237.00" font-size="9.53" font-weight="bold" fill="#111" textLength="6.49" lengthAdjust="spacingAndGlyphs" transform="matrix(1 0.001 0 1 0 -0.5359)" stroke="#111" stroke-width="0.25">e</text>
<text x="547.85" y="237.00" font-size="9.23" font-weight="bold" fill="#111" textLength="6.33" lengthAdjust="spacingAndGlyphs" transform="matrix(1 0.001 0 1 0 -0.5510)" stroke="#111" stroke-width="0.25">F</text>
<text x="554.18" y="237.00" font-size="9.23" font-weight="bold" fill="#111" textLength="6.29" lengthAdjust="spacingAndGlyphs" transform="matrix(1 0.001 0 1 0 -0.5573)" stroke="#111" stroke-width="0.25">e</text>
<text x="560.47" y="237.00" font-size="9.23" font-weight="bold" fill="#111" textLength="9.66" lengthAdjust="spacingAndGlyphs" transform="matrix(1 0.001 0 1 0 -0.5653)" stroke="#111" stroke-width="0.25">m</text>
<text x="570.13" y="237.00" font-size="9.23" font-weight="bold" fill="#111" textLength="6.26" lengthAdjust="spacingAndGlyphs" transform="matrix(1 0.001 0 1 0 -0.5733)" stroke="#111" stroke-width="0.25">a</text>
<text x="576.38" y="237.00" font-size="9.23" font-weight="bold" fill="#111" textLength="3.18" lengthAdjust="spacingAndGlyphs" transform="matrix(1 0.001 0 1 0 -0.5780)" stroke="#111" stroke-width="0.25">l</text>
<text x="579.56" y="237.00" font-size="9.23" font-weight="bold" fill="#111" textLength="6.29" lengthAdjust="spacingAndGlyphs" transform="matrix(1 0.001 0 1 0 -0.5827)" stroke="#111" stroke-width="0.25">e</text>
<text x="592.74" y="236.90" font-size="9.29" font-weight="bold" fill="#111" textLength="9.28" lengthAdjust="spacingAndGlyphs" transform="matrix(1 0.001 0 1 0 -0.5974)" stroke="#111" stroke-width="0.25">M</text>
<text x="602.03" y="236.90" font-size="9.29" font-weight="bold" fill="#111" textLength="6.30" lengthAdjust="spacingAndGlyphs" transform="matrix(1 0.001 0 1 0 -0.6052)" stroke="#111" stroke-width="0.25">a</text>
<text x="608.32" y="236.90" font-size="9.29" font-weight="bold" fill="#111" textLength="3.20" lengthAdjust="spacingAndGlyphs" transform="matrix(1 0.001 0 1 0 -0.6099)" stroke="#111" stroke-width="0.25">l</text>
<text x="611.52" y="236.90" font-size="9.29" font-weight="bold" fill="#111" textLength="6.33" lengthAdjust="spacingAndGlyphs" transform="matrix(1 0.001 0 1 0 -0.6147)" stroke="#111" stroke-width="0.25">e</text>
<text x="626.04" y="236.90" font-size="9.28" font-weight="bold" fill="#111" textLength="6.37" lengthAdjust="spacingAndGlyphs" transform="matrix(1 0.001 0 1 0 -0.6292)" stroke="#111" stroke-width="0.25">F</text>
<text x="632.41" y="236.90" font-size="9.28" font-weight="bold" fill="#111" textLength="6.32" lengthAdjust="spacingAndGlyphs" transform="matrix(1 0.001 0 1 0 -0.6356)" stroke="#111" stroke-width="0.25">e</text>
<text x="638.73" y="236.90" font-size="9.28" font-weight="bold" fill="#111" textLength="9.71" lengthAdjust="spacingAndGlyphs" transform="matrix(1 0.001 0 1 0 -0.6436)" stroke="#111" stroke-width="0.25">m</text>
<text x="648.44" y="236.90" font-size="9.28" font-weight="bold" fill="#111" textLength="6.29" lengthAdjust="spacingAndGlyphs" transform="matrix(1 0.001 0 1 0 -0.6516)" stroke="#111" stroke-width="0.25">a</text>
<text x="654.73" y="236.90" font-size="9.28" font-weight="bold" fill="#111" textLength="3.19" lengthAdjust="spacingAndGlyphs" transform="matrix(1 0.001 0 1 0 -0.6563)" stroke="#111" stroke-width="0.25">l</text>
<text x="657.93" y="236.90" font-size="9.28" font-weight="bold" fill="#111" textLength="6.32" lengthAdjust="spacingAndGlyphs" transform="matrix(1 0.001 0 1 0 -0.6611)" stroke="#111" stroke-width="0.25">e</text>
<text x="452.74" y="250.70" font-size="8.47" font-weight="normal" fill="#222" textLength="5.47" lengthAdjust="spacingAndGlyphs" transform="matrix(1 0.001 0 1 0 -0.4555)" stroke="#222" stroke-width="0.45">A</text>
<text x="458.20" y="250.70" font-size="8.47" font-weight="normal" fill="#222" textLength="5.07" lengthAdjust="spacingAndGlyphs" transform="matrix(1 0.001 0 1 0 -0.4607)" stroke="#222" stroke-width="0.45">g</text>
<text x="463.27" y="250.70" font-size="8.47" font-weight="normal" fill="#222" textLength="4.92" lengthAdjust="spacingAndGlyphs" transform="matrix(1 0.001 0 1 0 -0.4657)" stroke="#222" stroke-width="0.45">e</text>
<text x="470.73" y="250.70" font-size="8.47" font-weight="normal" fill="#222" textLength="6.69" lengthAdjust="spacingAndGlyphs" transform="matrix(1 0.001 0 1 0 -0.4741)" stroke="#222" stroke-width="0.45">≤</text>
<text x="479.96" y="250.70" font-size="8.47" font-weight="normal" fill="#222" textLength="5.08" lengthAdjust="spacingAndGlyphs" transform="matrix(1 0.001 0 1 0 -0.4825)" stroke="#222" stroke-width="0.45">3</text>
<text x="485.05" y="250.70" font-size="8.47" font-weight="normal" fill="#222" textLength="5.08" lengthAdjust="spacingAndGlyphs" transform="matrix(1 0.001 0 1 0 -0.4876)" stroke="#222" stroke-width="0.45">0</text>
<text x="516.75" y="249.70" font-size="7.00" font-weight="normal" fill="#222" textLength="4.52" lengthAdjust="spacingAndGlyphs" transform="matrix(1 0.001 0 1 0 -0.5190)" stroke="#222" stroke-width="0.35">A</text>
<text x="521.27" y="249.70" font-size="7.00" font-weight="normal" fill="#222" textLength="4.19" lengthAdjust="spacingAndGlyphs" transform="matrix(1 0.001 0 1 0 -0.5234)" stroke="#222" stroke-width="0.35">g</text>
<text x="525.46" y="249.70" font-size="7.00" font-weight="normal" fill="#222" textLength="4.06" lengthAdjust="spacingAndGlyphs" transform="matrix(1 0.001 0 1 0 -0.5275)" stroke="#222" stroke-width="0.35">e</text>
<text x="529.52" y="249.70" font-size="7.00" font-weight="normal" fill="#222" textLength="5.53" lengthAdjust="spacingAndGlyphs" transform="matrix(1 0.001 0 1 0 -0.5323)" stroke="#222" stroke-width="0.35">&gt;</text>
<text x="535.06" y="249.70" font-size="7.00" font-weight="normal" fill="#222" textLength="4.20" lengthAdjust="spacingAndGlyphs" transform="matrix(1 0.001 0 1 0 -0.5372)" stroke="#222" stroke-width="0.35">3</text>
<text x="539.26" y="249.70" font-size="7.00" font-weight="normal" fill="#222" textLength="4.20" lengthAdjust="spacingAndGlyphs" transform="matrix(1 0.001 0 1 0 -0.5414)" stroke="#222" stroke-width="0.35">0</text>
<text x="545.57" y="249.70" font-size="7.00" font-weight="normal" fill="#222" textLength="4.05" lengthAdjust="spacingAndGlyphs" transform="matrix(1 0.001 0 1 0 -0.5476)" stroke="#222" stroke-width="0.35">a</text>
<text x="549.61" y="249.70" font-size="7.00" font-weight="normal" fill="#222" textLength="4.19" lengthAdjust="spacingAndGlyphs" transform="matrix(1 0.001 0 1 0 -0.5517)" stroke="#222" stroke-width="0.35">n</text>
<text x="553.80" y="249.70" font-size="7.00" font-weight="normal" fill="#222" textLength="4.19" lengthAdjust="spacingAndGlyphs" transform="matrix(1 0.001 0 1 0 -0.5559)" stroke="#222" stroke-width="0.35">d</text>
<text x="560.09" y="249.70" font-size="7.00" font-weight="normal" fill="#222" textLength="4.05" lengthAdjust="spacingAndGlyphs" transform="matrix(1 0.001 0 1 0 -0.5621)" stroke="#222" stroke-width="0.35">a</text>
<text x="564.14" y="249.70" font-size="7.00" font-weight="normal" fill="#222" textLength="4.19" lengthAdjust="spacingAndGlyphs" transform="matrix(1 0.001 0 1 0 -0.5662)" stroke="#222" stroke-width="0.35">g</text>
<text x="568.33" y="249.70" font-size="7.00" font-weight="normal" fill="#222" textLength="4.06" lengthAdjust="spacingAndGlyphs" transform="matrix(1 0.001 0 1 0 -0.5704)" stroke="#222" stroke-width="0.35">e</text>
<text x="572.40" y="249.70" font-size="7.00" font-weight="normal" fill="#222" textLength="5.53" lengthAdjust="spacingAndGlyphs" transform="matrix(1 0.001 0 1 0 -0.5752)" stroke="#222" stroke-width="0.35">≤</text>
<text x="577.93" y="249.70" font-size="7.00" font-weight="normal" fill="#222" textLength="4.20" lengthAdjust="spacingAndGlyphs" transform="matrix(1 0.001 0 1 0 -0.5800)" stroke="#222" stroke-width="0.35">6</text>
<text x="582.14" y="249.70" font-size="7.00" font-weight="normal" fill="#222" textLength="4.20" lengthAdjust="spacingAndGlyphs" transform="matrix(1 0.001 0 1 0 -0.5842)" stroke="#222" stroke-width="0.35">0</text>
<text x="608.44" y="249.80" font-size="8.03" font-weight="normal" fill="#222" textLength="5.18" lengthAdjust="spacingAndGlyphs" transform="matrix(1 0.001 0 1 0 -0.6110)" stroke="#222" stroke-width="0.45">A</text>
<text x="613.62" y="249.80" font-size="8.03" font-weight="normal" fill="#222" textLength="4.81" lengthAdjust="spacingAndGlyphs" transform="matrix(1 0.001 0 1 0 -0.6160)" stroke="#222" stroke-width="0.45">g</text>
<text x="618.43" y="249.80" font-size="8.03" font-weight="normal" fill="#222" textLength="4.66" lengthAdjust="spacingAndGlyphs" transform="matrix(1 0.001 0 1 0 -0.6208)" stroke="#222" stroke-width="0.45">e</text>
<text x="625.50" y="249.80" font-size="8.03" font-weight="normal" fill="#222" textLength="6.35" lengthAdjust="spacingAndGlyphs" transform="matrix(1 0.001 0 1 0 -0.6287)" stroke="#222" stroke-width="0.45">&gt;</text>
<text x="634.26" y="249.80" font-size="8.03" font-weight="normal" fill="#222" textLength="4.82" lengthAdjust="spacingAndGlyphs" transform="matrix(1 0.001 0 1 0 -0.6367)" stroke="#222" stroke-width="0.45">6</text>
<text x="639.08" y="249.80" font-size="8.03" font-weight="normal" fill="#222" textLength="4.82" lengthAdjust="spacingAndGlyphs" transform="matrix(1 0.001 0 1 0 -0.6415)" stroke="#222" stroke-width="0.45">0</text>
<g transform="translate(380.50,197.00) rotate(-90)">
<text x="0.04" y="0.00" font-size="13.30" font-weight="bold" fill="#111" textLength="12.17" lengthAdjust="spacingAndGlyphs" transform="matrix(1 0.001 0 1 0 -0.0061)" stroke="#111" stroke-width="0.3">M</text>
<text x="13.03" y="0.00" font-size="13.30" font-weight="bold" fill="#111" textLength="4.57" lengthAdjust="spacingAndGlyphs" transform="matrix(1 0.001 0 1 0 -0.0153)" stroke="#111" stroke-width="0.3">I</text>
<text x="20.92" y="0.00" font-size="13.30" font-weight="bold" fill="#111" textLength="10.36" lengthAdjust="spacingAndGlyphs" transform="matrix(1 0.001 0 1 0 -0.0261)" stroke="#111" stroke-width="0.3">A</text>
<text x="30.91" y="0.00" font-size="13.30" font-weight="bold" fill="#111" textLength="8.96" lengthAdjust="spacingAndGlyphs" transform="matrix(1 0.001 0 1 0 -0.0354)" stroke="#111" stroke-width="0.3">d</text>
<text x="40.50" y="0.00" font-size="13.30" font-weight="bold" fill="#111" textLength="12.95" lengthAdjust="spacingAndGlyphs" transform="matrix(1 0.001 0 1 0 -0.0470)" stroke="#111" stroke-width="0.3">m</text>
<text x="53.38" y="0.00" font-size="13.30" font-weight="bold" fill="#111" textLength="4.46" lengthAdjust="spacingAndGlyphs" transform="matrix(1 0.001 0 1 0 -0.0556)" stroke="#111" stroke-width="0.3">i</text>
<text x="57.96" y="0.00" font-size="13.30" font-weight="bold" fill="#111" textLength="7.24" lengthAdjust="spacingAndGlyphs" transform="matrix(1 0.001 0 1 0 -0.0616)" stroke="#111" stroke-width="0.3">s</text>
<text x="64.88" y="0.00" font-size="13.30" font-weight="bold" fill="#111" textLength="7.24" lengthAdjust="spacingAndGlyphs" transform="matrix(1 0.001 0 1 0 -0.0685)" stroke="#111" stroke-width="0.3">s</text>
<text x="72.04" y="0.00" font-size="13.30" font-weight="bold" fill="#111" textLength="4.46" lengthAdjust="spacingAndGlyphs" transform="matrix(1 0.001 0 1 0 -0.0743)" stroke="#111" stroke-width="0.3">i</text>
<text x="76.46" y="0.00" font-size="13.30" font-weight="bold" fill="#111" textLength="8.68" lengthAdjust="spacingAndGlyphs" transform="matrix(1 0.001 0 1 0 -0.0808)" stroke="#111" stroke-width="0.3">o</text>
<text x="84.97" y="0.00" font-size="13.30" font-weight="bold" fill="#111" textLength="8.76" lengthAdjust="spacingAndGlyphs" transform="matrix(1 0.001 0 1 0 -0.0893)" stroke="#111" stroke-width="0.3">n</text>
<text x="93.45" y="0.00" font-size="13.30" font-weight="bold" fill="#111" textLength="7.24" lengthAdjust="spacingAndGlyphs" transform="matrix(1 0.001 0 1 0 -0.0971)" stroke="#111" stroke-width="0.3">s</text>
<text x="101.65" y="0.00" font-size="13.30" font-weight="bold" fill="#111" textLength="4.95" lengthAdjust="spacingAndGlyphs" transform="matrix(1 0.001 0 1 0 -0.1041)" stroke="#111" stroke-width="0.3">/</text>
<text x="107.40" y="0.00" font-size="13.30" font-weight="bold" fill="#111" textLength="10.18" lengthAdjust="spacingAndGlyphs" transform="matrix(1 0.001 0 1 0 -0.1125)" stroke="#111" stroke-width="0.3">D</text>
<text x="117.79" y="0.00" font-size="13.30" font-weight="bold" fill="#111" textLength="7.27" lengthAdjust="spacingAndGlyphs" transform="matrix(1 0.001 0 1 0 -0.1214)" stroke="#111" stroke-width="0.3">a</text>
<text x="126.41" y="0.00" font-size="13.30" font-weight="bold" fill="#111" textLength="8.02" lengthAdjust="spacingAndGlyphs" transform="matrix(1 0.001 0 1 0 -0.1304)" stroke="#111" stroke-width="0.3">y</text>
<text x="138.75" y="0.00" font-size="13.30" font-weight="bold" fill="#111" textLength="4.33" lengthAdjust="spacingAndGlyphs" transform="matrix(1 0.001 0 1 0 -0.1409)" stroke="#111" stroke-width="0.3">(</text>
<text x="144.07" y="0.00" font-size="13.30" font-weight="bold" fill="#111" textLength="12.54" lengthAdjust="spacingAndGlyphs" transform="matrix(1 0.001 0 1 0 -0.1503)" stroke="#111" stroke-width="0.3">%</text>
<text x="157.31" y="0.00" font-size="13.30" font-weight="bold" fill="#111" textLength="4.33" lengthAdjust="spacingAndGlyphs" transform="matrix(1 0.001 0 1 0 -0.1595)" stroke="#111" stroke-width="0.3">)</text>
</g>
<text x="346.70" y="15.00" font-size="18.91" font-weight="bold" fill="#111" textLength="12.97" lengthAdjust="spacingAndGlyphs" transform="matrix(1 0.001 0 1 0 -0.3532)" stroke="#111" stroke-width="0.35">b</text>
</svg>
</body></html>
